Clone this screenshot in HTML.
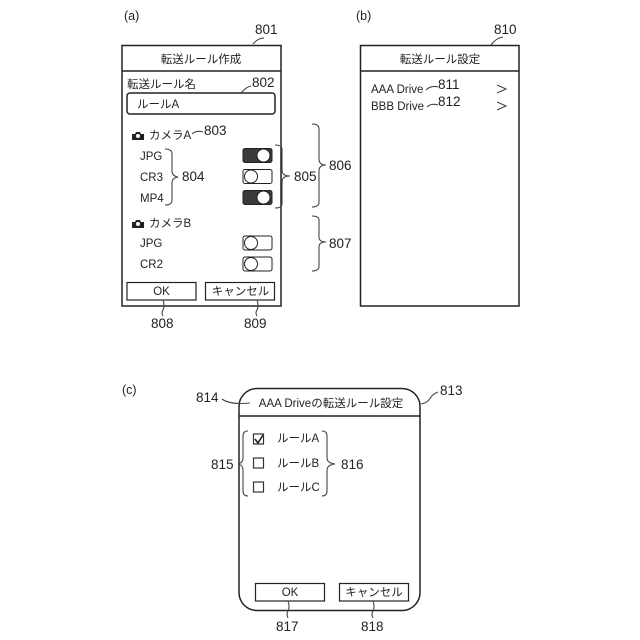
<!DOCTYPE html>
<html><head><meta charset="utf-8"><style>
html,body{margin:0;padding:0;background:#fff;width:640px;height:640px;overflow:hidden}
svg{display:block}
text{font-family:"Liberation Sans","Noto Sans CJK JP",sans-serif;fill:#222}
.s{font-size:11.5px}
.l{font-size:12.5px}
.n{font-size:13.5px}
.f{fill:none;stroke:#222;stroke-width:1.5}
.b{fill:none;stroke:#444;stroke-width:1.1}
</style></head><body>
<svg width="640" height="640" viewBox="0 0 640 640" xmlns="http://www.w3.org/2000/svg">
<text x="124" y="20" class="l">(a)</text>
<text x="356" y="20" class="l">(b)</text>
<text x="122" y="394" class="l">(c)</text>

<!-- (a) -->
<rect x="122" y="45.5" width="159" height="260.5" class="f"/>
<line x1="122" y1="71" x2="281" y2="71" class="f"/>
<text x="201" y="63" class="s" text-anchor="middle">転送ルール作成</text>
<text x="127" y="88" class="s">転送ルール名</text>
<rect x="127" y="93" width="148" height="21" rx="3" class="f"/>
<text x="137" y="108" class="s">ルールA</text>
<text x="255" y="34" class="n">801</text>
<path d="M253 44 Q258 38 264 38" class="b"/>
<text x="252" y="87" class="n">802</text>
<path d="M241 93 Q246 87 251 86" class="b"/>

<path d="M132 140v-6h3l1-2h4l1 2h3v6z" fill="#222"/><circle cx="138" cy="136" r="2" fill="#fff"/>
<text x="149" y="139" class="s">カメラA</text>
<path d="M192 134 Q196 130 203 132" class="b"/>
<text x="204" y="135" class="n">803</text>
<text x="140" y="160" class="s">JPG</text>
<text x="140" y="181" class="s">CR3</text>
<text x="140" y="202" class="s">MP4</text>
<path d="M165 149 Q172 149 172 154 V171 Q172 176 178 177 Q172 178 172 183 V200 Q172 205 165 205" class="b"/>
<text x="182" y="181" class="n">804</text>

<rect x="243" y="148.500" width="29" height="14" rx="2" fill="#3a3a3a" stroke="#222"/>
<circle cx="263.500" cy="155.500" r="6.500" fill="#fff" stroke="#222"/>
<rect x="243" y="169.500" width="29" height="14" rx="2" fill="#fff" stroke="#222"/>
<circle cx="251" cy="176.500" r="6.500" fill="#fff" stroke="#222"/>
<rect x="243" y="190.500" width="29" height="14" rx="2" fill="#3a3a3a" stroke="#222"/>
<circle cx="263.500" cy="197.500" r="6.500" fill="#fff" stroke="#222"/>
<path d="M275 145 Q282 145 282 149 V170 Q282 176 290 176 Q282 176 282 182 V204 Q282 208 275 208" class="b"/>
<text x="294" y="181" class="n">805</text>
<path d="M312 124 Q319 124 319 129 V159 Q319 165 326 165 Q319 165 319 171 V202 Q319 207 312 207" class="b"/>
<text x="329" y="170" class="n">806</text>

<path d="M132 228v-6h3l1-2h4l1 2h3v6z" fill="#222"/><circle cx="138" cy="224" r="2" fill="#fff"/>
<text x="149" y="227" class="s">カメラB</text>
<text x="140" y="247" class="s">JPG</text>
<text x="140" y="268" class="s">CR2</text>
<rect x="243" y="236" width="29" height="14" rx="2" fill="#fff" stroke="#222"/>
<circle cx="251" cy="243" r="6.500" fill="#fff" stroke="#222"/>
<rect x="243" y="257" width="29" height="14" rx="2" fill="#fff" stroke="#222"/>
<circle cx="251" cy="264" r="6.500" fill="#fff" stroke="#222"/>
<path d="M312 216 Q319 216 319 220 V237 Q319 242 326 242 Q319 242 319 247 V266 Q319 271 312 271" class="b"/>
<text x="329" y="248" class="n">807</text>

<rect x="127" y="282.500" width="69" height="17.500" fill="#fff" stroke="#222" stroke-width="1.200"/>
<text x="161.500" y="295" class="s" text-anchor="middle">OK</text>
<rect x="205.500" y="282.500" width="69" height="17.500" fill="#fff" stroke="#222" stroke-width="1.200"/>
<text x="240.500" y="295" class="s" text-anchor="middle">キャンセル</text>
<path d="M163 300 Q165 306 163 310 Q161 313 163 316" class="b"/>
<path d="M257 300 Q259 306 257 310 Q255 313 257 316" class="b"/>
<text x="151" y="328" class="n">808</text>
<text x="244" y="328" class="n">809</text>

<!-- (b) -->
<rect x="360.500" y="45.500" width="158.500" height="260.500" class="f"/>
<line x1="360" y1="71" x2="519" y2="71" class="f"/>
<text x="440" y="63" class="s" text-anchor="middle">転送ルール設定</text>
<text x="494" y="34" class="n">810</text>
<path d="M491 45 Q496 38 503 37" class="b"/>
<text x="371" y="93" class="s">AAA Drive</text>
<text x="371" y="110" class="s">BBB Drive</text>
<path d="M426 90 Q431 85 438 87" class="b"/>
<path d="M427 107 Q431 103 438 105" class="b"/>
<text x="438" y="89" class="n">811</text>
<text x="438" y="106" class="n">812</text>
<path d="M497 85 L506 89 L497 93" class="b"/>
<path d="M497 102 L506 106 L497 110" class="b"/>

<!-- (c) -->
<rect x="239" y="388.500" width="181" height="222" rx="18" class="f"/>
<line x1="239" y1="416" x2="420" y2="416" class="f"/>
<text x="331" y="407" class="s" text-anchor="middle">AAA Driveの転送ルール設定</text>
<text x="196" y="402" class="n">814</text>
<path d="M222 399 Q230 405 250 403" class="b"/>
<text x="440" y="395" class="n">813</text>
<path d="M421 404 Q428 403 431 397 Q433 394 438 392" class="b"/>

<path d="M248 431 Q243 431 243 436 V458 Q243 463 238 464 Q243 465 243 470 V491 Q243 496 248 496" class="b"/>
<path d="M322 431 Q327 431 327 436 V458 Q327 463 335 464 Q327 465 327 470 V491 Q327 496 322 496" class="b"/>
<text x="211" y="469" class="n">815</text>
<text x="341" y="469" class="n">816</text>
<rect x="253.500" y="434" width="10" height="10" fill="none" stroke="#333" stroke-width="1.200"/>
<path d="M255 439 L258 443 L263 435" fill="none" stroke="#222" stroke-width="1.600"/>
<rect x="253.500" y="458" width="10" height="10" fill="none" stroke="#333" stroke-width="1.200"/>
<rect x="253.500" y="482" width="10" height="10" fill="none" stroke="#333" stroke-width="1.200"/>
<text x="277" y="442" class="s">ルールA</text>
<text x="277" y="467" class="s">ルールB</text>
<text x="277" y="491" class="s">ルールC</text>

<rect x="255.500" y="583.500" width="69" height="17.500" fill="#fff" stroke="#222" stroke-width="1.200"/>
<text x="290" y="596" class="s" text-anchor="middle">OK</text>
<rect x="339.500" y="583.500" width="69" height="17.500" fill="#fff" stroke="#222" stroke-width="1.200"/>
<text x="374" y="596" class="s" text-anchor="middle">キャンセル</text>
<path d="M288 601 Q290 607 288 611 Q286 614 288 618" class="b"/>
<path d="M373 601 Q375 607 373 611 Q371 614 373 618" class="b"/>
<text x="276" y="631" class="n">817</text>
<text x="361" y="631" class="n">818</text>
</svg>
</body></html>
